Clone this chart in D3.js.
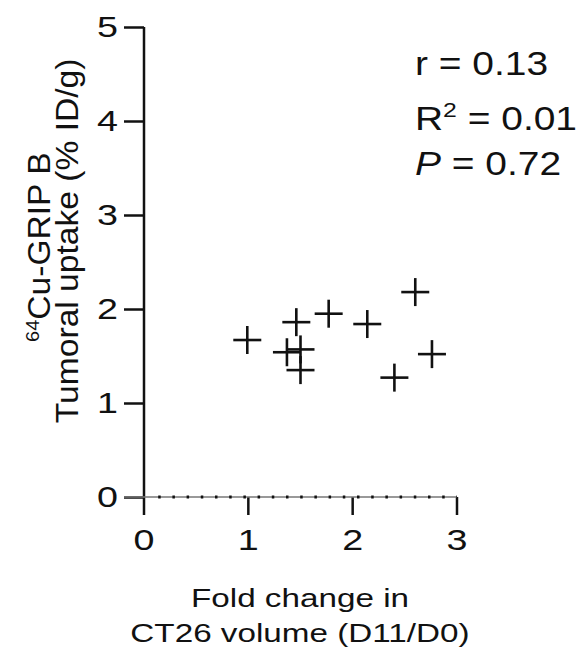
<!DOCTYPE html>
<html>
<head>
<meta charset="utf-8">
<script src="https://cdn.jsdelivr.net/npm/d3@7"></script>
<style>
  body { margin: 0; background: #fff; }
  text { font-family: Arial, "Liberation Sans", sans-serif; fill: #111; }
</style>
</head>
<body>
<div id="chart"></div>
<script>
// fold change in CT26 volume (D11/D0) vs 64Cu-GRIP B uptake (%ID/g)
var foldChange = [0.99, 1.46, 1.77, 2.14, 2.60, 1.37, 1.50, 1.50, 2.40, 2.76];
var uptake     = [1.67, 1.86, 1.95, 1.84, 2.18, 1.54, 1.57, 1.35, 1.27, 1.52];
var xTicks = [0, 1, 2, 3];
var yTicks = [0, 1, 2, 3, 4, 5];
var statLines = ['r = 0.13', 'R2 = 0.01', 'P = 0.72'];

var W = 576, H = 656;
var svg = d3.select('#chart').append('svg').attr('width', W).attr('height', H);

var x = d3.scaleLinear().domain([0, 3]).range([144, 457]);
var y = d3.scaleLinear().domain([0, 5]).range([497, 27]);

var ink = '#111';

// y axis
var yAxis = svg.append('g').attr('transform', 'translate(' + x(0) + ',0)')
  .call(d3.axisLeft(y).tickValues(yTicks).tickSize(20).tickPadding(6).tickFormat(d3.format('d')));
yAxis.select('.domain').remove();
yAxis.append('line').attr('x1', 0).attr('x2', 0).attr('y1', y(5)).attr('y2', y(0) + 18)
  .attr('stroke', ink).attr('stroke-width', 2.5);
yAxis.selectAll('.tick line').attr('stroke', ink).attr('stroke-width', 2.5);
yAxis.selectAll('.tick text').attr('font-size', 29).attr('fill', ink)
  .attr('transform', 'scale(1.3,1)')
  .attr('x', -26 / 1.3);

// x axis: thin grey line with dotted pattern, ticks down
var xAxis = svg.append('g').attr('transform', 'translate(0,' + y(0) + ')')
  .call(d3.axisBottom(x).tickValues(xTicks).tickSize(18).tickPadding(14).tickFormat(d3.format('d')));
xAxis.select('.domain').remove();
xAxis.append('line').attr('x1', x(0) - 20).attr('x2', x(3)).attr('y1', 0).attr('y2', 0)
  .attr('stroke', '#777').attr('stroke-width', 1.5);
xAxis.append('line').attr('x1', x(0) + 14.2).attr('x2', x(3)).attr('y1', 0).attr('y2', 0)
  .attr('stroke', ink).attr('stroke-width', 3).attr('stroke-dasharray', '2.5,11.7');
xAxis.selectAll('.tick line').attr('stroke', ink).attr('stroke-width', 2.5)
  .filter(function(d){ return d === 0; }).remove();
xAxis.selectAll('.tick text').attr('font-size', 29).attr('fill', ink)
  .attr('transform', 'scale(1.3,1)')
  .each(function(d){ d3.select(this).attr('x', 0); });
xAxis.selectAll('.tick').attr('transform', function(d){ return 'translate(' + x(d) + ',0)'; });

// plus markers
var pts = foldChange.map(function(v, i){ return { fx: v, u: uptake[i] }; });
var arm = 14;
var marks = svg.append('g').attr('stroke', ink).attr('stroke-width', 2.6);
marks.selectAll('.h').data(pts).enter().append('line')
  .attr('x1', function(d){ return x(d.fx) - arm; }).attr('x2', function(d){ return x(d.fx) + arm; })
  .attr('y1', function(d){ return y(d.u); }).attr('y2', function(d){ return y(d.u); });
marks.selectAll('.v').data(pts).enter().append('line')
  .attr('x1', function(d){ return x(d.fx); }).attr('x2', function(d){ return x(d.fx); })
  .attr('y1', function(d){ return y(d.u) - arm; }).attr('y2', function(d){ return y(d.u) + arm; });

// x axis title
var xt = svg.append('g').attr('transform', 'translate(300,0) scale(1.33,1)');
xt.append('text').attr('y', 607).attr('text-anchor', 'middle').attr('font-size', 25).text('Fold change in');
xt.append('text').attr('y', 642).attr('text-anchor', 'middle').attr('font-size', 25).text('CT26 volume (D11/D0)');

// y axis title (rotated)
var yt = svg.append('g').attr('transform', 'translate(0,244) rotate(-90) scale(1.05,1)');
var l1 = yt.append('text').attr('x', -3).attr('y', 50).attr('text-anchor', 'middle').attr('font-size', 32);
l1.append('tspan').attr('font-size', 19).attr('dy', -11).text('64');
l1.append('tspan').attr('dy', 11).text('Cu-GRIP B');
yt.append('text').attr('x', 3).attr('y', 78).attr('text-anchor', 'middle').attr('font-size', 32)
  .text('Tumoral uptake (% ID/g)');

// statistics
var st = svg.append('g').attr('transform', 'translate(415,0) scale(1.18,1)');
var sBase = [75, 130, 175];
st.append('text').attr('y', sBase[0]).attr('font-size', 33).text(statLines[0]);
var r2 = st.append('text').attr('y', sBase[1]).attr('font-size', 33);
r2.append('tspan').text('R');
r2.append('tspan').attr('font-size', 21).attr('dy', -13).text('2');
r2.append('tspan').attr('dy', 13).text(statLines[1].slice(2));
var pl = st.append('text').attr('y', sBase[2]).attr('font-size', 33);
pl.append('tspan').attr('font-style', 'italic').text('P');
pl.append('tspan').text(statLines[2].slice(1));
</script>
</body>
</html>
